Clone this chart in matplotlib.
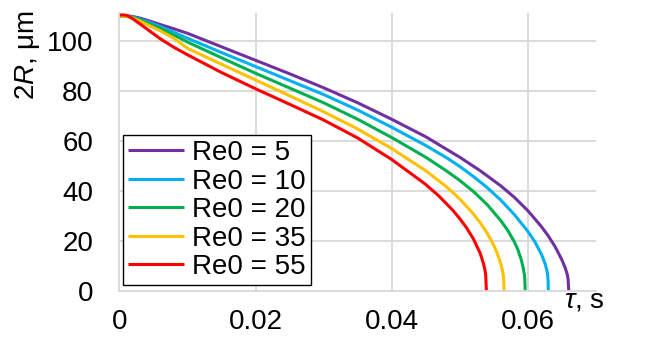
import matplotlib.pyplot as plt

# time, s and droplet diameter 2R, um
t_re5 = [0, 0.001, 0.002, 0.003, 0.004, 0.006, 0.008, 0.01, 0.015, 0.02, 0.025, 0.03, 0.035,
         0.04, 0.045, 0.05, 0.053, 0.056, 0.058, 0.06, 0.062, 0.063, 0.064, 0.065, 0.0655,
         0.0658, 0.0659, 0.066]
d_re5 = [110, 110.1, 109.7, 109.1, 108.3, 106.5, 104.8, 103.0, 97.6, 92.2, 86.8, 81.2, 75.2,
         68.6, 61.6, 53.4, 48.0, 42.0, 37.4, 32.0, 25.6, 21.9, 17.6, 12.3, 9.0,
         6.3, 4.6, 0]

t_re10 = [0, 0.001, 0.002, 0.003, 0.004, 0.006, 0.008, 0.01, 0.015, 0.02, 0.025, 0.03, 0.035,
          0.04, 0.045, 0.048, 0.05, 0.052, 0.054, 0.056, 0.058, 0.06, 0.061, 0.062, 0.0625,
          0.0628, 0.0629, 0.06297, 0.063]
d_re10 = [110, 110, 109.5, 108.7, 107.8, 105.7, 103.4, 101.0, 95.3, 89.7, 84.1, 78.5, 72.3,
          65.4, 58.1, 53.3, 49.7, 45.7, 41.3, 36.3, 30.5, 23.7, 19.7, 14.5, 11.0,
          8.0, 6.3, 4.0, 0]

t_re20 = [0, 0.001, 0.002, 0.003, 0.004, 0.006, 0.008, 0.01, 0.015, 0.02, 0.025, 0.03, 0.035,
          0.04, 0.045, 0.048, 0.05, 0.052, 0.054, 0.056, 0.057, 0.058, 0.0585, 0.059, 0.0593,
          0.0595, 0.05955, 0.0596]
d_re20 = [110, 109.9, 109.3, 108.4, 107.3, 105.0, 102.3, 99.5, 93.2, 87.0, 81.1, 75.2, 68.6,
          61.3, 53.4, 48.0, 44.1, 39.7, 34.5, 28.1, 24.3, 19.6, 16.6, 12.6, 9.3,
          6.1, 4.5, 0]

t_re35 = [0, 0.001, 0.002, 0.003, 0.004, 0.006, 0.008, 0.01, 0.015, 0.02, 0.025, 0.03, 0.035,
          0.04, 0.045, 0.048, 0.05, 0.052, 0.053, 0.054, 0.055, 0.0555, 0.056, 0.0562, 0.0564,
          0.05645, 0.0565]
d_re35 = [110, 109.8, 109.0, 107.9, 106.6, 104.0, 101.0, 97.0, 90.6, 84.3, 78.0, 71.6, 64.7,
          56.9, 48.0, 41.7, 36.7, 30.7, 27.2, 23.1, 18.1, 14.9, 10.9, 8.8, 5.8,
          4.3, 0]

t_re55 = [0, 0.0005, 0.001, 0.0015, 0.002, 0.003, 0.004, 0.006, 0.008, 0.01, 0.015, 0.02,
          0.025, 0.03, 0.035, 0.04, 0.045, 0.047, 0.049, 0.05, 0.051, 0.052, 0.053, 0.0535,
          0.0537, 0.0538, 0.05385, 0.0539]
d_re55 = [110.3, 110.4, 110.2, 109.6, 108.7, 106.8, 104.8, 100.8, 97.4, 94.4, 87.3, 80.8,
          74.6, 68.3, 61.1, 52.5, 42.5, 37.7, 32.1, 28.8, 25.1, 20.7, 14.9, 10.6,
          8.1, 6.3, 3.0, 0]

series_labels = ["Re0 = 5", "Re0 = 10", "Re0 = 20", "Re0 = 35", "Re0 = 55"]
series_colors = ["#7030A0", "#00B0F0", "#00B050", "#FFC000", "#FF0000"]

x_ticks = [0, 0.02, 0.04, 0.06]
x_tick_labels = ["0", "0.02", "0.04", "0.06"]
y_ticks = [0, 20, 40, 60, 80, 100]

plt.rcParams["font.family"] = ["Liberation Sans", "DejaVu Sans"]
plt.rcParams["mathtext.fontset"] = "custom"
plt.rcParams["mathtext.rm"] = "Liberation Sans"
plt.rcParams["mathtext.it"] = "Liberation Sans:italic"

fig = plt.figure(figsize=(6.49, 3.42), dpi=100)
ax = fig.add_axes([0.1841, 0.15, 0.7342, 0.811])

times = [t_re5, t_re10, t_re20, t_re35, t_re55]
diams = [d_re5, d_re10, d_re20, d_re35, d_re55]
for t, d, label, color in zip(times, diams, series_labels, series_colors):
    ax.plot(t, d, color=color, lw=2.2, label=label,
            solid_joinstyle="round", solid_capstyle="butt")

ax.set_xlim(0, 0.07)
ax.set_ylim(0, 111)
ax.set_xticks(x_ticks)
ax.set_xticklabels(x_tick_labels)
ax.set_yticks(y_ticks)
ax.grid(True, color="#d9d9d9", lw=1.3)
ax.set_axisbelow(True)
for side in ["top", "right"]:
    ax.spines[side].set_visible(False)
for side in ["left", "bottom"]:
    ax.spines[side].set_color("#d9d9d9")
    ax.spines[side].set_linewidth(1.3)
ax.tick_params(axis="both", length=0, labelsize=20)
ax.xaxis.set_tick_params(pad=13.5)
ax.yaxis.set_tick_params(pad=19)

leg = ax.legend(loc="lower left", bbox_to_anchor=(0.008, 0.02), borderaxespad=0,
                fontsize=20, frameon=True, fancybox=False, framealpha=1,
                handlelength=2.0, handletextpad=0.3, labelspacing=0.09,
                borderpad=0.18)
leg.get_frame().set_edgecolor("black")
leg.get_frame().set_linewidth(1.0)

fig.text(0.043, 0.84, r"2$\it{R}$, μm", rotation=90, fontsize=20, ha="center", va="center")
fig.text(0.9, 0.122, r"$\it{τ}$, s", fontsize=20, ha="center", va="center")

fig.savefig("out.png", dpi=100)
